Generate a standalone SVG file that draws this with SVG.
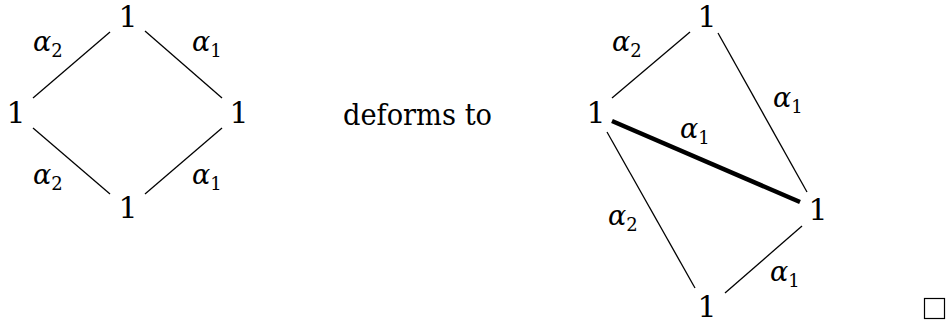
<svg xmlns="http://www.w3.org/2000/svg" width="947" height="324" viewBox="0 0 947 324">
<style>
text{font-family:'DejaVu Serif','Liberation Serif','Times New Roman',serif;fill:#000}
.n{font-size:30px;text-anchor:middle}
.a{font-size:27px;font-style:italic}
.s{font-size:18px;font-style:normal}
.t{font-size:29px}
.e{stroke:#000;stroke-width:1.3;fill:none}
.th{stroke:#000;stroke-width:4.5;fill:none}
</style>
<rect width="947" height="324" fill="#fff"/>
<g id="connectors">
<line class="e" x1="33" y1="98" x2="110" y2="32"/>
<line class="e" x1="145" y1="31" x2="222" y2="98"/>
<line class="e" x1="33" y1="128" x2="110" y2="194"/>
<line class="e" x1="145" y1="194" x2="222" y2="128"/>
<line class="e" x1="612" y1="98" x2="690" y2="32"/>
<line class="e" x1="718" y1="33" x2="807" y2="192"/>
<line class="th" x1="612" y1="121" x2="800" y2="202"/>
<line class="e" x1="607" y1="132" x2="695" y2="288"/>
<line class="e" x1="725" y1="293" x2="802" y2="226"/>
</g>
<g id="labels">
<text class="a" x="33" y="51">α<tspan class="s" dy="6">2</tspan></text>
<text class="a" x="192" y="51">α<tspan class="s" dy="6">1</tspan></text>
<text class="a" x="33" y="184">α<tspan class="s" dy="6">2</tspan></text>
<text class="a" x="192" y="184">α<tspan class="s" dy="6">1</tspan></text>
<text class="a" x="612" y="51">α<tspan class="s" dy="6">2</tspan></text>
<text class="a" x="773" y="107">α<tspan class="s" dy="6">1</tspan></text>
<text class="a" x="680" y="138">α<tspan class="s" dy="6">1</tspan></text>
<text class="a" x="608" y="225">α<tspan class="s" dy="6">2</tspan></text>
<text class="a" x="770" y="281">α<tspan class="s" dy="6">1</tspan></text>
</g>
<g id="L-top"><text class="n" x="128" y="27">1</text></g>
<g id="L-left"><text class="n" x="16" y="123">1</text></g>
<g id="L-right"><text class="n" x="239" y="123">1</text></g>
<g id="L-bottom"><text class="n" x="128" y="218">1</text></g>
<g id="deforms"><text class="t" x="343" y="125" textLength="149" lengthAdjust="spacingAndGlyphs">deforms to</text></g>
<g id="R-top"><text class="n" x="707" y="27">1</text></g>
<g id="R-left"><text class="n" x="596" y="123">1</text></g>
<g id="R-right"><text class="n" x="818" y="220">1</text></g>
<g id="R-bottom"><text class="n" x="707" y="317">1</text></g>
<g id="qed"><rect x="924.5" y="298.5" width="20" height="20" fill="none" stroke="#000" stroke-width="1.2"/></g>
</svg>
